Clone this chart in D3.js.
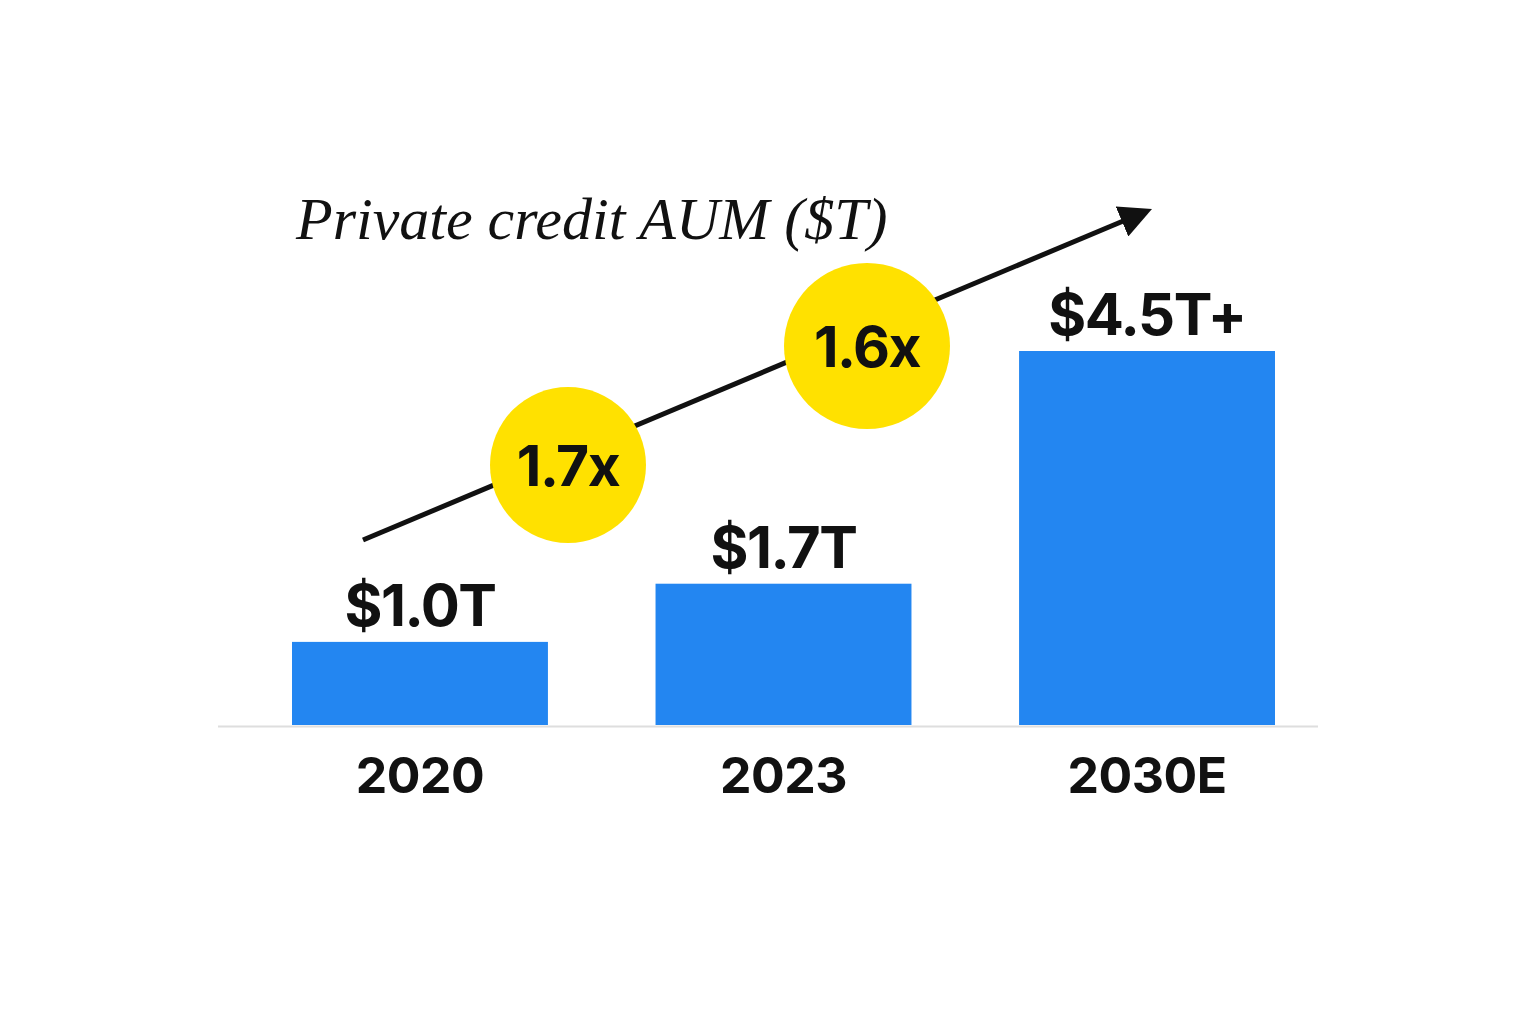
<!DOCTYPE html>
<html>
<head>
<meta charset="utf-8">
<script src="https://cdn.jsdelivr.net/npm/d3@7"></script>
<style>
  html, body { margin: 0; padding: 0; background: #ffffff; }
  svg { display: block; }
</style>
</head>
<body>
<svg id="chart" width="1536" height="1024"></svg>
<script>
// ---- data ----
const categories = ["2020", "2023", "2030E"];
const values = [1.0, 1.7, 4.5];
const valueLabels = ["$1.0T", "$1.7T", "$4.5T+"];
const growthLabels = ["1.7x", "1.6x"];
const title = "Private credit AUM ($T)";

// ---- layout ----
const W = 1536, H = 1024;
const baselineY = 725;
const svg = d3.select("#chart");

const x = d3.scaleBand()
  .domain(categories)
  .range([292, 1275])
  .paddingInner(0.296)
  .paddingOuter(0);

const y = d3.scaleLinear()
  .domain([0, 4.5])
  .range([baselineY, 351]);

const blue = "#2386F1";
const yellow = "#FFE100";
const ink = "#111111";
const sans = "Inter, 'Noto Sans', 'DejaVu Sans', sans-serif";

// baseline
svg.append("line")
  .attr("x1", 218).attr("x2", 1318)
  .attr("y1", baselineY + 1.5).attr("y2", baselineY + 1.5)
  .attr("stroke", "#dedede").attr("stroke-width", 2);

// bars
svg.selectAll("rect.bar")
  .data(values)
  .join("rect")
  .attr("class", "bar")
  .attr("x", (d, i) => x(categories[i]))
  .attr("width", x.bandwidth())
  .attr("y", d => y(d))
  .attr("height", d => baselineY - y(d))
  .attr("fill", blue);

// value labels
svg.selectAll("text.val")
  .data(values)
  .join("text")
  .attr("class", "val")
  .attr("x", (d, i) => x(categories[i]) + x.bandwidth() / 2)
  .attr("y", d => y(d) - 16)
  .attr("text-anchor", "middle")
  .attr("font-family", sans)
  .attr("font-weight", 700)
  .attr("font-size", 58)
  .attr("letter-spacing", -1.5)
  .attr("fill", ink)
  .text((d, i) => valueLabels[i]);

// category labels
svg.selectAll("text.cat")
  .data(categories)
  .join("text")
  .attr("class", "cat")
  .attr("x", d => x(d) + x.bandwidth() / 2)
  .attr("y", 793)
  .attr("text-anchor", "middle")
  .attr("font-family", sans)
  .attr("font-weight", 700)
  .attr("font-size", 50)
  .attr("letter-spacing", -0.5)
  .attr("fill", ink)
  .text(d => d);

// title
svg.append("text")
  .attr("x", 296)
  .attr("y", 239)
  .attr("font-family", "'Liberation Serif', 'DejaVu Serif', serif")
  .attr("font-style", "italic")
  .attr("font-size", 60)
  .attr("fill", ink)
  .text(title);

// trend arrow
svg.append("defs").append("marker")
  .attr("id", "ah")
  .attr("viewBox", "0 0 10 10")
  .attr("refX", 2).attr("refY", 5)
  .attr("markerWidth", 6.5).attr("markerHeight", 6.5)
  .attr("markerUnits", "strokeWidth")
  .attr("orient", "auto")
  .append("path")
  .attr("d", "M0,0 L10,5 L0,10 Z")
  .attr("fill", ink);

svg.append("line")
  .attr("x1", 363).attr("y1", 540)
  .attr("x2", 1128).attr("y2", 219)
  .attr("stroke", ink)
  .attr("stroke-width", 5)
  .attr("marker-end", "url(#ah)");

// growth bubbles
const bubbles = [
  { cx: 568, cy: 465, r: 78 },
  { cx: 867, cy: 346, r: 83 }
];
const g = svg.selectAll("g.bubble")
  .data(growthLabels)
  .join("g")
  .attr("class", "bubble")
  .attr("transform", (d, i) => `translate(${bubbles[i].cx},${bubbles[i].cy})`);
g.append("circle")
  .attr("r", (d, i) => bubbles[i].r)
  .attr("fill", yellow);
g.append("text")
  .attr("text-anchor", "middle")
  .attr("y", 21)
  .attr("font-family", sans)
  .attr("font-weight", 700)
  .attr("font-size", 57)
  .attr("letter-spacing", -1.5)
  .attr("fill", ink)
  .text(d => d);
</script>
</body>
</html>
